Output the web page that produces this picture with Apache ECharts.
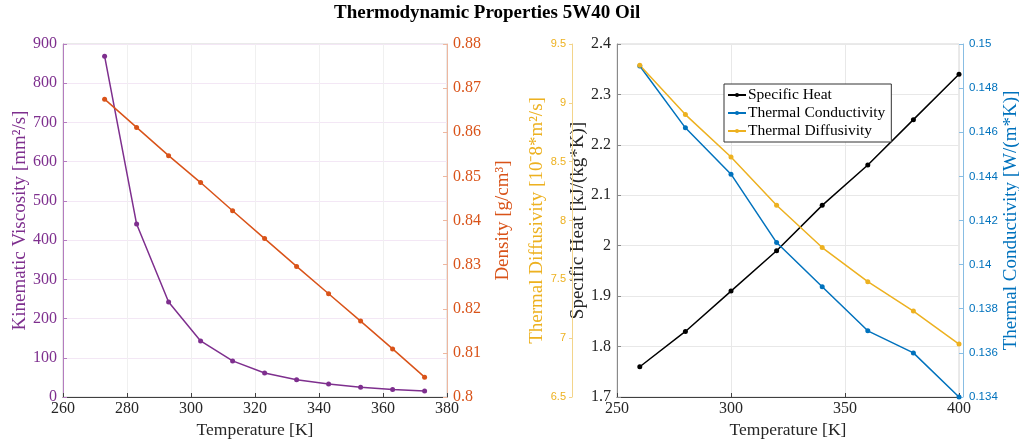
<!DOCTYPE html>
<html>
<head>
<meta charset="utf-8">
<script src="https://cdn.jsdelivr.net/npm/echarts@6/dist/echarts.min.js"></script>
<style>
  html, body { margin: 0; padding: 0; background: #fff; }
  #chart { width: 1019px; height: 445px; }
</style>
</head>
<body>
<div id="chart"></div>
<script>
// left panel: viscosity + density vs temperature
const tempLeft = [273, 283, 293, 303, 313, 323, 333, 343, 353, 363, 373];
const viscosity = [869, 441, 242, 143, 92, 61, 44, 33, 25, 19, 15];
const density = [0.8675, 0.8611, 0.8547, 0.8486, 0.8422, 0.8359, 0.8296, 0.8234, 0.8172, 0.8109, 0.8045];

// right panel: specific heat, conductivity, diffusivity
const tempRight = [260, 280, 300, 320, 340, 360, 380, 400];
const specificHeat = [1.76, 1.83, 1.91, 1.99, 2.08, 2.16, 2.25, 2.34];
const conductivity = [0.1490, 0.1462, 0.1441, 0.1410, 0.1390, 0.1370, 0.1360, 0.1340];
const diffusivity = [9.32, 8.90, 8.54, 8.13, 7.77, 7.48, 7.23, 6.95];

const SERIF = '"Liberation Serif", "Times New Roman", serif';
const SANS = '"Liberation Sans", Arial, sans-serif';

const C_VISC = '#7E2F8E';
const C_DENS = '#D95319';
const C_CP = '#000000';
const C_K = '#0072BD';
const C_ALPHA = '#EDB120';

function pairs(xs, ys) {
    return xs.map((x, i) => [x, ys[i]]);
}

function yAx(opts) {
    return Object.assign({
        type: 'value',
        nameLocation: 'middle',
        nameRotate: 90,
        axisLine: { show: true, lineStyle: { color: opts.lineColor, width: 1 } },
        axisTick: { show: true, inside: true, length: 4, lineStyle: { color: opts.lineColor } },
        axisLabel: { color: opts.color, fontFamily: opts.font, fontSize: opts.size, margin: 6 },
        nameTextStyle: { color: opts.color, fontFamily: SERIF, fontSize: 19 },
        splitLine: { show: false }
    }, opts.extra);
}

function xAx(grid, min, max, step, gridColor) {
    return {
        gridIndex: grid, type: 'value', min: min, max: max, interval: step,
        name: 'Temperature [K]', nameLocation: 'middle', nameGap: 23,
        nameTextStyle: { fontFamily: SERIF, fontSize: 17.5, color: '#262626' },
        axisLine: { lineStyle: { color: '#404040' } },
        axisTick: { inside: true, length: 4, lineStyle: { color: '#404040' } },
        axisLabel: { fontFamily: SERIF, fontSize: 16, color: '#262626', margin: 4 },
        splitLine: { show: true, lineStyle: { color: gridColor } }
    };
}

const chart = echarts.init(document.getElementById('chart'));

const option = {
    animation: false,
    backgroundColor: '#fff',
    title: {
        text: 'Thermodynamic Properties 5W40 Oil',
        left: 334,
        top: 4,
        padding: 0,
        textStyle: { fontFamily: SERIF, fontWeight: 'bold', fontSize: 19, color: '#000' }
    },
    legend: {
        data: ['Specific Heat', 'Thermal Conductivity', 'Thermal Diffusivity'],
        orient: 'vertical',
        left: 724,
        top: 84,
        itemWidth: 18,
        itemHeight: 5,
        itemGap: 2,
        padding: [3, 6, 3, 3],
        backgroundColor: '#fff',
        borderColor: '#333',
        borderWidth: 1,
        textStyle: { fontFamily: SERIF, fontSize: 15.5, color: '#000', padding: [0, 0, 0, -3] }
    },
    grid: [
        { left: 63, right: 572, top: 44, bottom: 48, outerBoundsMode: 'none',
          show: true, borderColor: '#d4d4d4', borderWidth: 1 },
        { left: 617, right: 60, top: 44, bottom: 48, outerBoundsMode: 'none',
          show: true, borderColor: '#d4d4d4', borderWidth: 1 }
    ],
    xAxis: [
        xAx(0, 260, 380, 20, '#f0f0f0'),
        xAx(1, 250, 400, 50, '#e8e8e8')
    ],
    yAxis: [
        yAx({
            color: C_VISC, lineColor: '#b47cbf', font: SERIF, size: 16,
            extra: {
                gridIndex: 0, position: 'left', min: 0, max: 900, interval: 100,
                name: 'Kinematic Viscosity [mm²/s]', nameGap: 27,
                splitLine: { show: true, lineStyle: { color: '#f3e7f5' } }
            }
        }),
        yAx({
            color: C_DENS, lineColor: '#eeb79f', font: SERIF, size: 16,
            extra: {
                gridIndex: 0, position: 'right', min: 0.8, max: 0.88, interval: 0.01,
                name: 'Density [g/cm³]', nameGap: 47
            }
        }),
        yAx({
            color: '#262626', lineColor: '#8a8a8a', font: SERIF, size: 16,
            extra: {
                gridIndex: 1, position: 'left', min: 1.7, max: 2.4, interval: 0.1,
                name: 'Specific Heat [kJ/(kg*K)]', nameGap: 17,
                splitLine: { show: true, lineStyle: { color: '#e8e8e8' } }
            }
        }),
        yAx({
            color: C_ALPHA, lineColor: '#f3d48a', font: SANS, size: 11,
            extra: {
                gridIndex: 1, position: 'left', offset: 45, min: 6.5, max: 9.5, interval: 0.5,
                name: 'Thermal Diffusivity [10⁻8*m²/s]', nameGap: 13,
                axisTick: { show: true, inside: false, length: 3, lineStyle: { color: '#f3d48a' } }
            }
        }),
        yAx({
            color: C_K, lineColor: '#88bde3', font: SANS, size: 11.5,
            extra: {
                gridIndex: 1, position: 'right', offset: 4, min: 0.134, max: 0.15, interval: 0.002,
                name: 'Thermal Conductivity [W/(m*K)]', nameGap: 37
            }
        })
    ],
    series: [
        {
            name: 'Kinematic Viscosity', type: 'line', xAxisIndex: 0, yAxisIndex: 0,
            data: pairs(tempLeft, viscosity), color: C_VISC,
            symbol: 'circle', symbolSize: 5, lineStyle: { width: 1.5 }
        },
        {
            name: 'Density', type: 'line', xAxisIndex: 0, yAxisIndex: 1,
            data: pairs(tempLeft, density), color: C_DENS,
            symbol: 'circle', symbolSize: 5, lineStyle: { width: 1.5 }
        },
        {
            name: 'Specific Heat', type: 'line', xAxisIndex: 1, yAxisIndex: 2,
            data: pairs(tempRight, specificHeat), color: C_CP,
            symbol: 'circle', symbolSize: 5, lineStyle: { width: 1.5 }
        },
        {
            name: 'Thermal Conductivity', type: 'line', xAxisIndex: 1, yAxisIndex: 4,
            data: pairs(tempRight, conductivity), color: C_K,
            symbol: 'circle', symbolSize: 5, lineStyle: { width: 1.5 }
        },
        {
            name: 'Thermal Diffusivity', type: 'line', xAxisIndex: 1, yAxisIndex: 3,
            data: pairs(tempRight, diffusivity), color: C_ALPHA,
            symbol: 'circle', symbolSize: 5, lineStyle: { width: 1.5 }
        }
    ]
};

chart.setOption(option);
</script>
</body>
</html>
